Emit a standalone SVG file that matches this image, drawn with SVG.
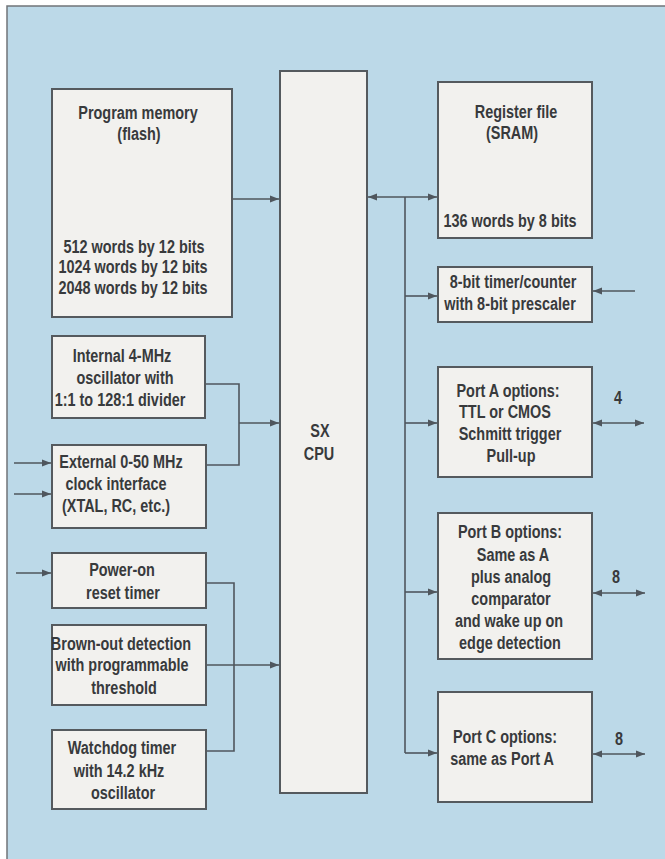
<svg xmlns="http://www.w3.org/2000/svg" width="665" height="859" viewBox="0 0 665 859">
<style>
.box{fill:#f2f1ee;stroke:#555a5e;stroke-width:2}
.ln{fill:none;stroke:#4f565d;stroke-width:1.6}
.t{font-family:"Liberation Sans",Arial,sans-serif;font-weight:bold;font-size:19px;fill:#383a3c;text-anchor:middle}
</style>
<defs>
<marker id="ah" markerWidth="10" markerHeight="8" refX="9" refY="4" orient="auto-start-reverse" markerUnits="userSpaceOnUse">
<path d="M0,0.5 L9,4 L0,7.5 Z" fill="#4f565d"/>
</marker>
</defs>
<rect x="0" y="0" width="665" height="859" fill="#ffffff"/>
<rect x="7" y="6" width="660" height="856" fill="#bcd9e8" stroke="#707478" stroke-width="1.5"/>

<g id="connectors">
<path class="ln" d="M232,199 H279" marker-end="url(#ah)"/>
<path class="ln" d="M368,197 H437" marker-start="url(#ah)" marker-end="url(#ah)"/>
<path class="ln" d="M405,197 V753"/>
<path class="ln" d="M405,296 H437" marker-end="url(#ah)"/>
<path class="ln" d="M405,423 H437" marker-end="url(#ah)"/>
<path class="ln" d="M405,592 H437" marker-end="url(#ah)"/>
<path class="ln" d="M405,753 H437" marker-end="url(#ah)"/>
<path class="ln" d="M635,291 H593" marker-end="url(#ah)"/>
<path class="ln" d="M593,423 H644" marker-start="url(#ah)" marker-end="url(#ah)"/>
<path class="ln" d="M593,593 H645" marker-start="url(#ah)" marker-end="url(#ah)"/>
<path class="ln" d="M593,754 H645" marker-start="url(#ah)" marker-end="url(#ah)"/>
<path class="ln" d="M205,384 H239 V465 H206"/>
<path class="ln" d="M239,423 H279" marker-end="url(#ah)"/>
<path class="ln" d="M14,463 H51" marker-end="url(#ah)"/>
<path class="ln" d="M14,494 H51" marker-end="url(#ah)"/>
<path class="ln" d="M16,573 H51" marker-end="url(#ah)"/>
<path class="ln" d="M206,583 H234 V751 H206"/>
<path class="ln" d="M206,665 H279" marker-end="url(#ah)"/>
<text class="t" transform="translate(618,404) scale(0.76,1)">4</text>
<text class="t" transform="translate(616,583) scale(0.76,1)">8</text>
<text class="t" transform="translate(619,745) scale(0.76,1)">8</text>
</g>

<g id="program-memory">
<rect class="box" x="52" y="89" width="180" height="228"/>
<text class="t" transform="translate(138,119) scale(0.76,1)">Program memory</text>
<text class="t" transform="translate(139,140) scale(0.76,1)">(flash)</text>
<text class="t" transform="translate(134,253) scale(0.76,1)">512 words by 12 bits</text>
<text class="t" transform="translate(133,273) scale(0.76,1)">1024 words by 12 bits</text>
<text class="t" transform="translate(133,294) scale(0.76,1)">2048 words by 12 bits</text>
</g>

<g id="cpu">
<rect class="box" x="280" y="71" width="87" height="722"/>
<text class="t" transform="translate(320,437) scale(0.76,1)">SX</text>
<text class="t" transform="translate(319,460) scale(0.76,1)">CPU</text>
</g>

<g id="register-file">
<rect class="box" x="438" y="82" width="154" height="156"/>
<text class="t" transform="translate(516,118) scale(0.76,1)">Register file</text>
<text class="t" transform="translate(512,139) scale(0.76,1)">(SRAM)</text>
<text class="t" transform="translate(510,227) scale(0.76,1)">136 words by 8 bits</text>
</g>

<g id="timer-counter">
<rect class="box" x="438" y="267" width="154" height="55"/>
<text class="t" transform="translate(513,288) scale(0.76,1)">8-bit timer/counter</text>
<text class="t" transform="translate(510,310) scale(0.76,1)">with 8-bit prescaler</text>
</g>

<g id="port-a">
<rect class="box" x="438" y="367" width="154" height="110"/>
<text class="t" transform="translate(508,397) scale(0.76,1)">Port A options:</text>
<text class="t" transform="translate(505,418) scale(0.76,1)">TTL or CMOS</text>
<text class="t" transform="translate(510,440) scale(0.76,1)">Schmitt trigger</text>
<text class="t" transform="translate(511,462) scale(0.76,1)">Pull-up</text>
</g>

<g id="port-b">
<rect class="box" x="438" y="513" width="154" height="146"/>
<text class="t" transform="translate(510,538) scale(0.76,1)">Port B options:</text>
<text class="t" transform="translate(513,561) scale(0.76,1)">Same as A</text>
<text class="t" transform="translate(511,583) scale(0.76,1)">plus analog</text>
<text class="t" transform="translate(511,605) scale(0.76,1)">comparator</text>
<text class="t" transform="translate(509,627) scale(0.76,1)">and wake up on</text>
<text class="t" transform="translate(510,649) scale(0.76,1)">edge detection</text>
</g>

<g id="port-c">
<rect class="box" x="438" y="692" width="154" height="110"/>
<text class="t" transform="translate(505,743) scale(0.76,1)">Port C options:</text>
<text class="t" transform="translate(502,765) scale(0.76,1)">same as Port A</text>
</g>

<g id="internal-oscillator">
<rect class="box" x="52" y="336" width="153" height="82"/>
<text class="t" transform="translate(122,362) scale(0.76,1)">Internal 4-MHz</text>
<text class="t" transform="translate(125,384) scale(0.76,1)">oscillator with</text>
<text class="t" transform="translate(120,406) scale(0.76,1)">1:1 to 128:1 divider</text>
</g>

<g id="external-clock">
<rect class="box" x="52" y="445" width="154" height="83"/>
<text class="t" transform="translate(121,468) scale(0.76,1)">External 0-50 MHz</text>
<text class="t" transform="translate(116,490) scale(0.76,1)">clock interface</text>
<text class="t" transform="translate(116,512) scale(0.76,1)">(XTAL, RC, etc.)</text>
</g>

<g id="power-on-reset">
<rect class="box" x="52" y="553" width="154" height="55"/>
<text class="t" transform="translate(122,576) scale(0.76,1)">Power-on</text>
<text class="t" transform="translate(123,599) scale(0.76,1)">reset timer</text>
</g>

<g id="brown-out">
<rect class="box" x="52" y="625" width="154" height="80"/>
<text class="t" transform="translate(121,650) scale(0.76,1)">Brown-out detection</text>
<text class="t" transform="translate(122,671) scale(0.76,1)">with programmable</text>
<text class="t" transform="translate(124,694) scale(0.76,1)">threshold</text>
</g>

<g id="watchdog">
<rect class="box" x="52" y="730" width="154" height="79"/>
<text class="t" transform="translate(122,754) scale(0.76,1)">Watchdog timer</text>
<text class="t" transform="translate(119,777) scale(0.76,1)">with 14.2 kHz</text>
<text class="t" transform="translate(123,799) scale(0.76,1)">oscillator</text>
</g>
</svg>
